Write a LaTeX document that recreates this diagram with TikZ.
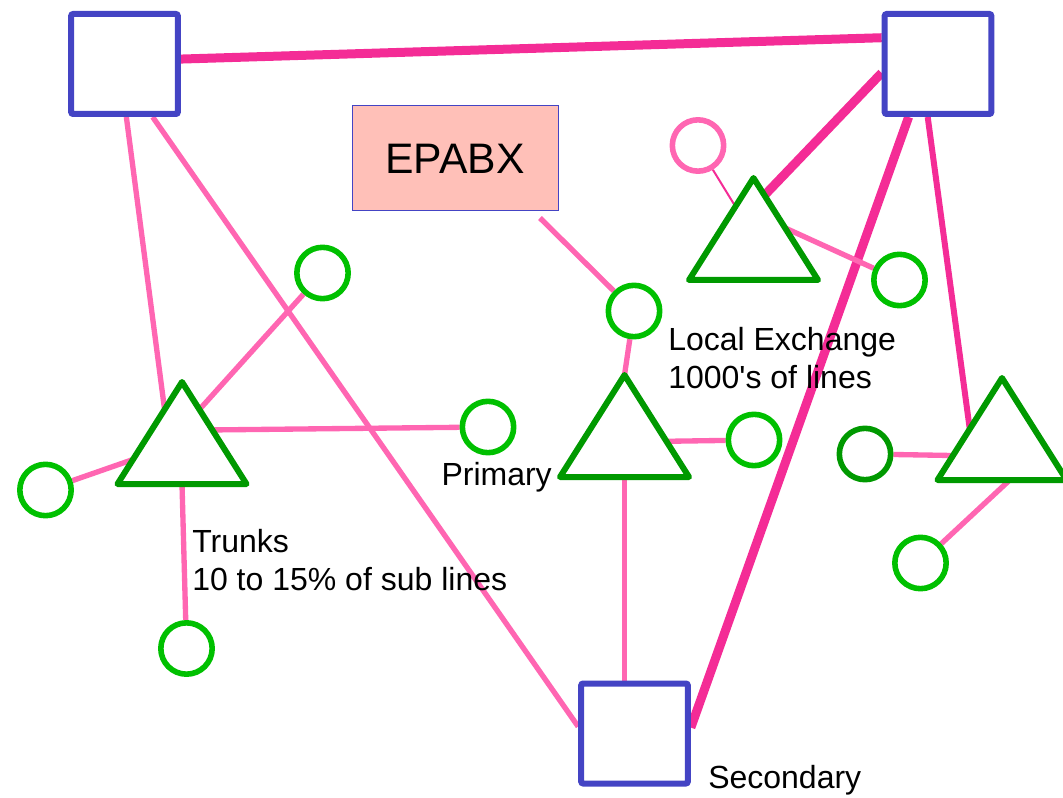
\documentclass[tikz,border=0pt]{standalone}
\usepackage{fontspec}
\setmainfont{Liberation Sans}
\usetikzlibrary{positioning, shapes.geometric, calc, backgrounds}
\definecolor{exblue}{HTML}{4444C4}
\definecolor{trigreen}{HTML}{009900}
\definecolor{subgreen}{HTML}{00C000}
\definecolor{linepink}{HTML}{FF66B2}
\definecolor{tiepink}{HTML}{F42C96}
\definecolor{epfill}{HTML}{FFC0B8}

\begin{document}
\begin{tikzpicture}[
      x=0.75pt, y=-0.75pt,
      exch/.style={draw=exblue, line width=4.5pt, rounded corners=1.5pt,
                   minimum width=80pt, minimum height=75pt},
      prim/.style={isosceles triangle, isosceles triangle stretches,
                   shape border rotate=90, draw=trigreen, line width=4.5pt,
                   line join=round, minimum width=96.75pt,
                   minimum height=76.5pt, inner sep=0pt, outer sep=0pt,
                   anchor=apex},
      sub/.style={circle, draw=subgreen, line width=4.2pt,
                  minimum size=38.5pt, inner sep=0pt},
      trunk/.style={draw=linepink, line width=4pt},
      tie/.style={draw=tiepink, line width=6.75pt},
      lbl/.style={font=\fontsize{24}{28.5}\selectfont, align=left,
                  inner sep=0pt},
    ]
    \useasboundingbox (0,0) rectangle (1063,798);

    % exchanges
    \node[exch] (tl)  at (124.5,64)    {};
    \node[exch] (tr)  at (938,64)      {};
    \node[exch] (sec) at (634.5,733.5) {};

    \node[prim] (pl) at (182,382)   {};
    \node[prim] (pm) at (624.5,375) {};
    \node[prim] (pt) at (753.5,178) {};
    \node[prim] (pr) at (1002,378)  {};

    \node[draw=exblue, fill=epfill, line width=0.75pt, minimum width=154.5pt,
          minimum height=78.75pt, outer sep=5.25pt,
          font=\fontsize{32}{36}\selectfont] (epabx) at (455,158.5) {EPABX};

    % subscribers
    \node[sub] (s1) at (45.5,490)  {};
    \node[sub] (s2) at (322.5,273) {};
    \node[sub] (s3) at (488,427)   {};
    \node[sub] (s4) at (186.5,648.5) {};
    \node[sub] (s5) at (634,311)   {};
    \node[sub] (s6) at (754,440)   {};
    \node[sub] (s7) at (899.5,280) {};
    \node[sub, draw=trigreen] (s8) at (865,454) {};
    \node[sub] (s9) at (920.5,563) {};
    \node[sub, draw=linepink] (ext) at (698,145.5) {};

    % labels (base = last line)
    \node[lbl, anchor=base west] (trunks) at (192,590)
         {Trunks\\10 to 15\% of sub lines};
    \node[lbl, anchor=base west] (local) at (668,388)
         {Local Exchange\\1000\textquotesingle s of lines};
    \node[lbl, anchor=base east] (primary) at (552,485) {Primary};
    \node[lbl, anchor=base west] (secondary) at (708,788) {Secondary};

    \begin{scope}[on background layer]
      \draw[tie] (tl.5) -- (tr.155);
      \draw[tie] (tr.-171) -- ($(pt.apex)!0.17!(pt.right corner)$);
      \draw[tie] (tr.-119) -- (sec.6);
      \draw[tie, line width=4.5pt] (tr.-101) -- ($(pr.apex)!0.5!(pr.left corner)$);

      \draw[trunk] (tl.-88) -- ($(pl.apex)!0.27!(pl.left corner)$);
      \draw[trunk] (tl.-62) -- (sec.173);
      \draw[trunk] (s1) -- ($(pl.apex)!0.76!(pl.left corner)$);
      \draw[trunk] ($(pl.apex)!0.27!(pl.right corner)$) -- (s2);
      \draw[trunk] ($(pl.apex)!0.47!(pl.right corner)$) -- (s3);
      \draw[trunk] (pl.south) -- (s4);

      \draw[trunk] (epabx.-35) -- (s5);
      \draw[trunk] (s5) -- (pm.apex);
      \draw[trunk] ($(pm.apex)!0.65!(pm.right corner)$) -- (s6);
      \draw[trunk] (pm.south) -- (pm.south |- sec.north);

      \draw[tie, line width=1.5pt] (ext) -- ($(pt.apex)!0.28!(pt.left corner)$);
      \draw[trunk] ($(pt.apex)!0.49!(pt.right corner)$) -- (s7);

      \draw[trunk] (s8) -- ($(pr.apex)!0.76!(pr.left corner)$);
      \draw[trunk] ($(pr.left corner)!0.56!(pr.right corner)$) -- (s9);
    \end{scope}
  \end{tikzpicture}
\end{document}
